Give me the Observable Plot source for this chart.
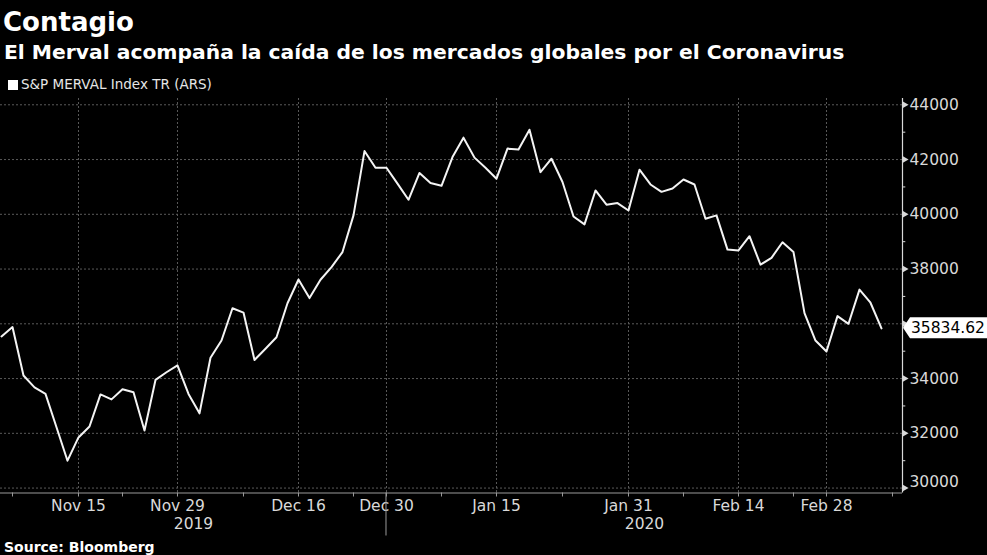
<!DOCTYPE html>
<html>
<head>
<meta charset="utf-8">
<script src="https://cdn.jsdelivr.net/npm/d3@7"></script>
<script src="https://cdn.jsdelivr.net/npm/@observablehq/plot@0.6"></script>
<style>
  html, body { margin: 0; padding: 0; background: #000; }
  #wrap { position: relative; width: 987px; height: 555px; overflow: hidden; background: #000; color: #fff; }
  .t { position: absolute; white-space: nowrap; line-height: 1; }
  #title { left: 3px; top: 7px; font: bold 26px "DejaVu Sans"; color: #fff; }
  #subtitle { left: 4px; top: 40px; font: bold 20.3px "DejaVu Sans"; color: #fff; }
  #legend { left: 8px; top: 76px; font: 13.5px "DejaVu Sans"; color: #e6e6e6; }
  #legend .sw { display: inline-block; width: 10px; height: 10px; background: #fff; margin-right: 3px; vertical-align: -1px; }
  #source { left: 4px; top: 539px; font: bold 14px "DejaVu Sans"; color: #fff; }
  #chart { position: absolute; left: 0; top: 90px; }
</style>
</head>
<body>
<div id="wrap">
  <div class="t" id="title"></div>
  <div class="t" id="subtitle"></div>
  <div class="t" id="legend"><span class="sw"></span><span id="legendText"></span></div>
  <div id="chart"></div>
  <div class="t" id="source"></div>
</div>
<script>
// ---- texts ----
const titleText = "Contagio";
const subtitleText = "El Merval acompaña la caída de los mercados globales por el Coronavirus";
const seriesName = "S&P MERVAL Index TR (ARS)";
const sourceText = "Source: Bloomberg";

// ---- data: trading days and index closes ----
const dates = [
  "2019-11-06","2019-11-07","2019-11-08","2019-11-11","2019-11-12","2019-11-13","2019-11-14","2019-11-15",
  "2019-11-19","2019-11-20","2019-11-21","2019-11-22","2019-11-25","2019-11-26","2019-11-27","2019-11-28","2019-11-29",
  "2019-12-02","2019-12-03","2019-12-04","2019-12-05","2019-12-06","2019-12-09","2019-12-10","2019-12-11","2019-12-12",
  "2019-12-13","2019-12-16","2019-12-17","2019-12-18","2019-12-19","2019-12-20","2019-12-23","2019-12-26","2019-12-27","2019-12-30",
  "2020-01-02","2020-01-03","2020-01-06","2020-01-07","2020-01-08","2020-01-09","2020-01-10","2020-01-13","2020-01-14","2020-01-15",
  "2020-01-16","2020-01-17","2020-01-20","2020-01-21","2020-01-22","2020-01-23","2020-01-24","2020-01-27","2020-01-28","2020-01-29",
  "2020-01-30","2020-01-31",
  "2020-02-03","2020-02-04","2020-02-05","2020-02-06","2020-02-07","2020-02-10","2020-02-11","2020-02-12","2020-02-13","2020-02-14",
  "2020-02-17","2020-02-18","2020-02-19","2020-02-20","2020-02-21","2020-02-26","2020-02-27","2020-02-28",
  "2020-03-02","2020-03-03","2020-03-04","2020-03-05","2020-03-06"
];
const values = [
  35540, 35880, 34110, 33680, 33440, 32220, 31000, 31850,
  32250, 33420, 33240, 33610, 33500, 32100, 33950, 34230, 34480,
  33440, 32730, 34760, 35390, 36570, 36410, 34680, 35090, 35510,
  36750, 37620, 36940, 37610, 38070, 38620, 39960, 42310, 41700, 41700,
  41120, 40530, 41510, 41140, 41040, 42090, 42800, 42070, 41700, 41300,
  42400, 42370, 43090, 41540, 42030, 41180, 39920, 39630, 40870, 40350,
  40410, 40140,
  41630, 41090, 40820, 40940, 41270, 41090, 39840, 39960, 38710, 38680,
  39200, 38160, 38410, 38980, 38620, 36390, 35390, 34990,
  36280, 36000, 37250, 36770, 35834.62
];
const lastValueLabel = "35834.62";

// ---- axis ticks ----
const yTicks = [30000, 32000, 34000, 36000, 38000, 40000, 42000, 44000];
const yMinorTicks = [31000, 33000, 35000, 37000, 39000, 41000, 43000];
const xTickDates = ["2019-11-15","2019-11-29","2019-12-16","2019-12-30","2020-01-15","2020-01-31","2020-02-14","2020-02-28"];
const xTickLabels = ["Nov 15","Nov 29","Dec 16","Dec 30","Jan 15","Jan 31","Feb 14","Feb 28"];
const xMinorDates = ["2019-11-07","2019-11-22","2019-12-09","2019-12-23","2020-01-08","2020-01-23","2020-02-07","2020-02-21","2020-03-09"];
const years = ["2019", "2020"];
const yearBreak = "2019-12-30";

// ---- page texts ----
document.getElementById("title").textContent = titleText;
document.getElementById("subtitle").textContent = subtitleText;
document.getElementById("legendText").textContent = seriesName;
document.getElementById("source").textContent = sourceText;

// trading-day index (dates after the last one continue the sequence)
const idx = (d) => { const i = dates.indexOf(d); return i >= 0 ? i : dates.length; };
const rows = values.map((v, i) => ({i, v, date: dates[i]}));
const lastValue = values[values.length - 1];

const xDomain = [-0.09, dates.length + 0.91];
const yDomain = [29820, 44230];
const labelOf = new Map(xTickDates.map((d, k) => [idx(d), xTickLabels[k]]));
const breakIdx = idx(yearBreak);
const yearCenters = [(xDomain[0] + breakIdx) / 2, (breakIdx + xDomain[1]) / 2];

const AXIS = "#d9d9d9";
const GRID = "#5a5a5a";
const FONT = "DejaVu Sans";

// custom mark: year separator + last value tag, placed with the plot's scales
function extras(index, scales, channels, dims) {
  const g = d3.create("svg:g");
  const bottom = dims.height - dims.marginBottom;
  const xb = scales.x(breakIdx);
  g.append("line").attr("x1", xb).attr("x2", xb).attr("y1", bottom).attr("y2", bottom + 43)
    .attr("stroke", "#9a9a9a").attr("stroke-width", 1);
  const xr = dims.width - dims.marginRight;
  const yl = scales.y(lastValue);
  g.append("path")
    .attr("d", `M${xr + 1},${yl} L${xr + 8},${yl - 10.5} L${dims.width},${yl - 10.5} L${dims.width},${yl + 10.5} L${xr + 8},${yl + 10.5} Z`)
    .attr("fill", "#fff");
  g.append("text").attr("x", xr + 9).attr("y", yl).attr("dy", "0.36em")
    .attr("text-anchor", "start")
    .attr("font-family", FONT).attr("font-size", 15.5).attr("fill", "#000")
    .text(lastValueLabel);
  return g.node();
}

const plot = Plot.plot({
  width: 987,
  height: 450,
  marginTop: 8,
  marginBottom: 47.5,
  marginLeft: 0,
  marginRight: 85,
  style: {background: "transparent", color: AXIS, fontFamily: FONT, overflow: "visible"},
  x: {type: "linear", domain: xDomain, axis: null, label: null},
  y: {domain: yDomain, axis: null, label: null},
  marks: [
    Plot.ruleY(yTicks, {stroke: GRID, strokeDasharray: "2,2", strokeWidth: 1}),
    Plot.ruleX(xTickDates.map(idx), {stroke: GRID, strokeDasharray: "2,2", strokeWidth: 1}),
    Plot.line(rows, {x: "i", y: "v", stroke: "#f4f4f4", strokeWidth: 2, strokeLinejoin: "round"}),
    // right axis
    Plot.ruleX([xDomain[1]], {stroke: AXIS, strokeWidth: 1.2}),
    Plot.ruleY(yMinorTicks, {x1: xDomain[1], x2: xDomain[1] + 0.3, stroke: AXIS}),
    Plot.dot(yTicks, {x: xDomain[1], y: d => d, symbol: "triangle", r: 2.6, fill: AXIS, rotate: 90, dx: 2}),
    Plot.text(yTicks.slice(1).filter(d => Math.abs(d - lastValue) > 800), {x: xDomain[1], y: d => d, text: d => String(d), dx: 7, textAnchor: "start", fill: AXIS, fontSize: 15.5}),
    Plot.text(yTicks.slice(0, 1), {x: xDomain[1], y: d => d, text: d => String(d), dx: 7, dy: -6, textAnchor: "start", fill: AXIS, fontSize: 15.5}),
    // bottom axis
    Plot.ruleY([yDomain[0]], {stroke: "#9a9a9a", strokeWidth: 1.2}),
    Plot.axisX(xTickDates.map(idx), {tickFormat: i => labelOf.get(i), tickSize: 4, tickPadding: 3, fontSize: 15.5, color: AXIS, stroke: "#9a9a9a", label: null}),
    Plot.axisX(xMinorDates.map(idx), {tickFormat: () => "", tickSize: 4, stroke: "#9a9a9a", label: null}),
    Plot.text(years, {x: (d, k) => yearCenters[k], y: yDomain[0], text: d => d, dy: 31, fill: AXIS, fontSize: 15.5}),
    extras
  ]
});
document.getElementById("chart").appendChild(plot);
</script>
</body>
</html>
